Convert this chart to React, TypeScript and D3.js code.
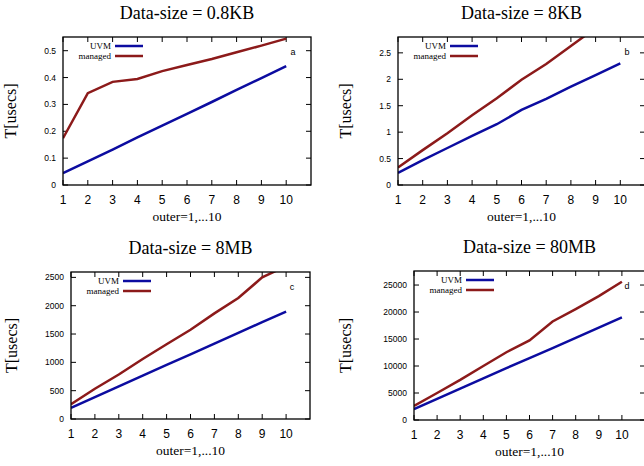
import React from "react";
import * as d3 from "d3";

// x values shared by all four panels
const outer = [1, 2, 3, 4, 5, 6, 7, 8, 9, 10];
const xTicks = [1, 2, 3, 4, 5, 6, 7, 8, 9, 10];

// a: Data-size = 0.8KB
const uvmA = [0.044, 0.088, 0.132, 0.177, 0.221, 0.265, 0.309, 0.354, 0.398, 0.443];
const managedA = [0.174, 0.342, 0.384, 0.395, 0.424, 0.447, 0.469, 0.494, 0.519, 0.545];
const yTicksA = [0, 0.1, 0.2, 0.3, 0.4, 0.5];

// b: Data-size = 8KB
const uvmB = [0.23, 0.47, 0.7, 0.93, 1.15, 1.42, 1.63, 1.86, 2.08, 2.3];
const managedB = [0.33, 0.66, 0.98, 1.32, 1.64, 1.99, 2.29, 2.63, 2.97, 3.31];
const yTicksB = [0, 0.5, 1, 1.5, 2, 2.5];

// c: Data-size = 8MB
const uvmC = [195, 385, 575, 765, 955, 1140, 1330, 1520, 1710, 1895];
const managedC = [260, 535, 785, 1060, 1320, 1575, 1865, 2135, 2500, 2700];
const yTicksC = [0, 500, 1000, 1500, 2000, 2500];

// d: Data-size = 80MB
const uvmD = [2000, 3900, 5800, 7700, 9600, 11450, 13300, 15200, 17100, 19000];
const managedD = [2600, 5000, 7430, 10000, 12550, 14750, 18250, 20550, 22950, 25600];
const yTicksD = [0, 5000, 10000, 15000, 20000, 25000];

const UVM_COLOR = "#0c0ca0";
const MANAGED_COLOR = "#8c1a1a";

type PanelProps = {
  id: string;
  title: string;
  letter: string;
  uvm: number[];
  managed: number[];
  yMax: number;
  yTicks: number[];
  left: number;
  right: number;
  top: number;
  bottom: number;
  ylabelOffset: number;
};

function Panel(p: PanelProps) {
  const x = d3.scaleLinear().domain([1, 11]).range([p.left, p.right]);
  const y = d3.scaleLinear().domain([0, p.yMax]).range([p.bottom, p.top]);
  const line = d3
    .line<number>()
    .x((_, i) => x(outer[i]))
    .y((d) => y(d));
  const cx = (p.left + p.right) / 2;
  const tick = 5;
  const serif = "'Liberation Serif', 'Times New Roman', serif";
  const sans = "'Liberation Sans', Arial, sans-serif";

  return (
    <g>
      <defs>
        <clipPath id={"clip-" + p.id}>
          <rect x={p.left} y={p.top} width={p.right - p.left} height={p.bottom - p.top} />
        </clipPath>
      </defs>
      <text x={cx} y={p.top - 18} textAnchor="middle" fontFamily={serif} fontSize={18}>
        {p.title}
      </text>

      {/* ticks, gnuplot style: inward, mirrored */}
      {xTicks.map((t) => (
        <g key={"x" + t}>
          <line x1={x(t)} x2={x(t)} y1={p.bottom} y2={p.bottom - tick} stroke="#000" />
          <line x1={x(t)} x2={x(t)} y1={p.top} y2={p.top + tick} stroke="#000" />
          <text x={x(t)} y={p.bottom + 19} textAnchor="middle" fontFamily={sans} fontSize={12}>
            {t}
          </text>
        </g>
      ))}
      {p.yTicks.map((t) => (
        <g key={"y" + t}>
          <line x1={p.left} x2={p.left + tick} y1={y(t)} y2={y(t)} stroke="#000" />
          <line x1={p.right} x2={p.right - tick} y1={y(t)} y2={y(t)} stroke="#000" />
          <text
            x={p.left - 7}
            y={y(t) + 3}
            textAnchor="end"
            fontFamily={sans}
            fontSize={8.5}
          >
            {t}
          </text>
        </g>
      ))}

      <g clipPath={`url(#clip-${p.id})`}>
        <path d={line(p.uvm) || ""} fill="none" stroke={UVM_COLOR} strokeWidth={2.5} />
        <path d={line(p.managed) || ""} fill="none" stroke={MANAGED_COLOR} strokeWidth={2.5} />
      </g>

      <rect
        x={p.left}
        y={p.top}
        width={p.right - p.left}
        height={p.bottom - p.top}
        fill="none"
        stroke="#000"
        strokeWidth={1.3}
      />

      {/* legend */}
      <text x={p.left + 48} y={p.top + 12} textAnchor="end" fontFamily={serif} fontSize={9}>
        UVM
      </text>
      <line x1={p.left + 52} x2={p.left + 80} y1={p.top + 9} y2={p.top + 9} stroke={UVM_COLOR} strokeWidth={2.5} />
      <text x={p.left + 48} y={p.top + 22} textAnchor="end" fontFamily={serif} fontSize={9}>
        managed
      </text>
      <line x1={p.left + 52} x2={p.left + 80} y1={p.top + 19} y2={p.top + 19} stroke={MANAGED_COLOR} strokeWidth={2.5} />

      <text x={p.right - 18} y={p.top + 18} textAnchor="middle" fontFamily={sans} fontSize={9}>
        {p.letter}
      </text>

      <text x={cx} y={p.bottom + 36} textAnchor="middle" fontFamily={serif} fontSize={13.5}>
        outer=1,...10
      </text>
      <text
        transform={`translate(${p.left - p.ylabelOffset},${(p.top + p.bottom) / 2}) rotate(-90)`}
        textAnchor="middle"
        dominantBaseline="middle"
        fontFamily={serif}
        fontSize={16}
      >
        T[usecs]
      </text>
    </g>
  );
}

export default function App() {
  return (
    <svg
      width={644}
      height={466}
      style={{ position: "absolute", left: 0, top: 0, background: "#fff" }}
    >
      <Panel id="a" title="Data-size = 0.8KB" letter="a" uvm={uvmA} managed={managedA}
        yMax={0.551} yTicks={yTicksA} left={63} right={311} top={37} bottom={185} ylabelOffset={51} />
      <Panel id="b" title="Data-size = 8KB" letter="b" uvm={uvmB} managed={managedB}
        yMax={2.8} yTicks={yTicksB} left={398} right={645} top={37} bottom={185} ylabelOffset={51} />
      <Panel id="c" title="Data-size = 8MB" letter="c" uvm={uvmC} managed={managedC}
        yMax={2595} yTicks={yTicksC} left={71} right={310} top={272} bottom={419} ylabelOffset={58} />
      <Panel id="d" title="Data-size = 80MB" letter="d" uvm={uvmD} managed={managedD}
        yMax={27600} yTicks={yTicksD} left={414} right={645} top={271} bottom={420} ylabelOffset={67} />
    </svg>
  );
}
